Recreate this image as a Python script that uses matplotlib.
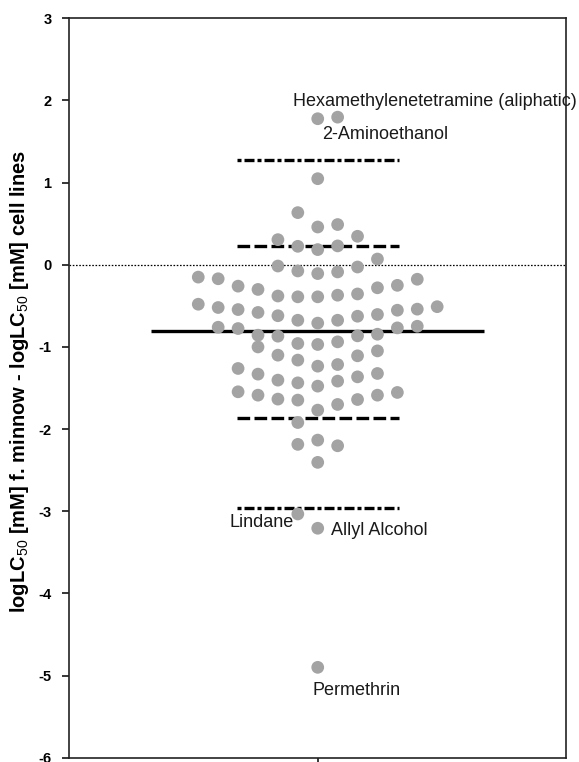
import matplotlib
matplotlib.use("Agg")
import matplotlib.pyplot as plt

plt.rcParams["font.family"] = ["Liberation Sans", "DejaVu Sans"]
plt.rcParams["mathtext.fontset"] = "custom"
plt.rcParams["mathtext.rm"] = "Liberation Sans"
plt.rcParams["mathtext.it"] = "Liberation Sans:italic"
plt.rcParams["mathtext.bf"] = "Liberation Sans:bold"

# log LC50 differences (fathead minnow minus cell lines), grouped by swarm column
values = [
    -0.15, -0.48,                                                      # column -6
    -0.17, -0.52, -0.76,                                               # column -5
    -0.26, -0.545, -0.776, -1.262, -1.546,                             # column -4
    -0.30, -0.58, -0.857, -1.00, -1.331, -1.587,                       # column -3
    0.306, -0.015, -0.38, -0.62, -0.869, -1.10, -1.404, -1.635,        # column -2
    0.635, 0.225, -0.075, -0.39, -0.675, -0.958, -1.16, -1.437,
    -1.647, -1.92, -2.186, -3.033,                                     # column -1
    1.778, 1.048, 0.46, 0.185, -0.107, -0.39, -0.71, -0.97, -1.234,
    -1.477, -1.769, -2.134, -2.405, -3.207, -4.90,                     # column 0
    1.797, 0.49, 0.23, -0.087, -0.37, -0.675, -0.938, -1.214, -1.416,
    -1.70, -2.203,                                                     # column +1
    0.347, -0.027, -0.355, -0.626, -0.865, -1.108, -1.364, -1.64,      # column +2
    0.07, -0.28, -0.605, -0.845, -1.048, -1.323, -1.587,               # column +3
    -0.25, -0.553, -0.768, -1.554,                                     # column +4
    -0.176, -0.54, -0.748,                                             # column +5
    -0.51,                                                             # column +6
]
column_sizes = [2, 3, 5, 6, 8, 12, 15, 11, 8, 7, 4, 3, 1]
column_ids = list(range(-6, 7))

# summary statistics
mean_value = -0.80
sd_band = [0.23, -1.87]
two_sd_band = [1.27, -2.96]

# labelled compounds: (name, value, column)
labels = [
    ("Hexamethylenetetramine (aliphatic)", 1.778, 0),
    ("2-Aminoethanol", 1.797, 1),
    ("Lindane", -3.033, -1),
    ("Allyl Alcohol", -3.207, 0),
    ("Permethrin", -4.90, 0),
]
label_offsets = {
    "Hexamethylenetetramine (aliphatic)": ((-18.1, 9.1), "left"),
    "2-Aminoethanol": ((-11.3, -15.8), "left"),
    "Lindane": ((-2.6, -9.6), "right"),
    "Allyl Alcohol": ((9.5, -4.8), "left"),
    "Permethrin": ((-4.0, -19.7), "left"),
}

yticks = [3, 2, 1, 0, -1, -2, -3, -4, -5, -6]

# swarm column spacing along the x axis
step = 0.0802
xs = []
for cid, n in zip(column_ids, column_sizes):
    xs.extend([cid * step] * n)

fig = plt.figure(figsize=(5.79, 7.62), dpi=100)
ax = fig.add_axes([0.1200, 0.00564, 0.8575, 0.9703])
ax.set_xlim(-1.0, 1.0)
ax.set_ylim(-6, 3)

# zero reference
ax.axhline(0, color="black", lw=0.9, linestyle=(0, (1.3, 1.3)), zorder=1)

# mean line
ax.plot([-0.67, 0.67], [mean_value] * 2, color="black", lw=2.4,
        solid_capstyle="butt", zorder=2)
# +/- 1 SD
for v in sd_band:
    ax.plot([-0.327, 0.327], [v, v], color="black", lw=2.4,
            linestyle=(0, (3.8, 1.3)), zorder=2)
# +/- 2 SD
for v in two_sd_band:
    ax.plot([-0.327, 0.327], [v, v], color="black", lw=2.4,
            linestyle=(0, (1.2, 0.9, 3.0, 0.9)), zorder=2)

ax.scatter(xs, values, s=84, color="#a3a3a3", edgecolors="none", zorder=3)

for name, v, cid in labels:
    (dx, dy), ha = label_offsets[name]
    ax.annotate(name, xy=(cid * step, v), xytext=(dx, dy),
                textcoords="offset points", ha=ha, va="baseline",
                fontsize=13, color="#1a1a1a", annotation_clip=False)

ax.set_yticks(yticks)
ax.set_yticklabels([str(t) for t in yticks], fontsize=10.5, fontweight="bold")
ax.set_xticks([0])
ax.set_xticklabels([""])
ax.tick_params(axis="y", direction="out", length=5.4, width=1.1, pad=7.5)
ax.tick_params(axis="x", direction="out", length=3.5, width=1.1)
for sp in ax.spines.values():
    sp.set_linewidth(1.2)
    sp.set_color("#222222")

ax.set_ylabel(r"logLC$_{\mathrm{50}}$ [mM] f. minnow - logLC$_{\mathrm{50}}$ [mM] cell lines",
              fontsize=14.5, fontweight="bold")
ax.yaxis.set_label_coords(-0.0775, 0.509)

fig.savefig("out.png", dpi=100)
